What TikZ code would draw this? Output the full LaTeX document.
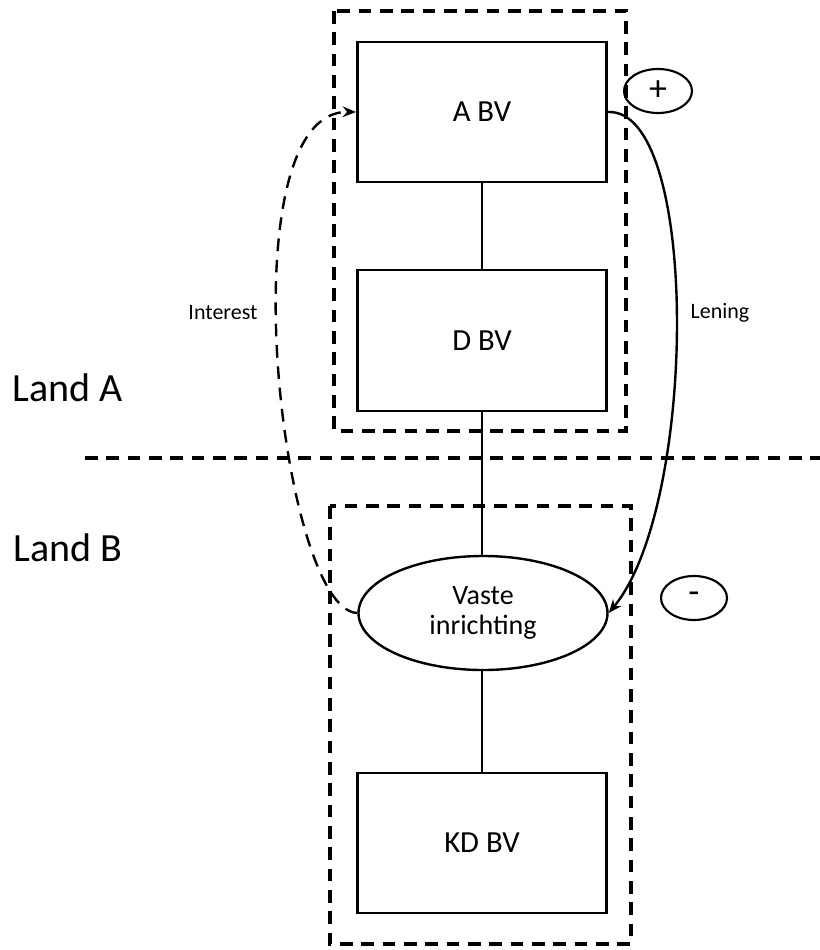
\documentclass[tikz,border=0pt]{standalone}
\usepackage{fontspec}
\setmainfont{Carlito}
\usetikzlibrary{arrows.meta,shapes.geometric}
\begin{document}
\begin{tikzpicture}[x=0.75pt,y=-0.75pt,
  boxnode/.style={draw,line width=2.2pt,rectangle,minimum width=249*0.75pt,minimum height=140*0.75pt,inner sep=0pt,font=\fontsize{23}{28}\selectfont},
  ovalnode/.style={draw,line width=1.8pt,ellipse,inner sep=0pt},
  dashbox/.style={line width=2.3pt,dash pattern=on 9.5pt off 6.5pt},
  link/.style={line width=1.8pt},
  flow/.style={line width=1.8pt,-{Stealth[length=10pt,width=8pt]}},
  lbl/.style={font=\fontsize{16.5}{20}\selectfont},
  land/.style={font=\fontsize{30}{36}\selectfont}]
\useasboundingbox (0,0) rectangle (820,950);
% dashed frames and border
\draw[dashbox] (334,11) rectangle (626,431);
\draw[dashbox] (330,506) rectangle (631,944);
\coordinate (bl) at (85,458);
\coordinate (br) at (820,458);
\draw[dashbox] (bl) -- (br);
% nodes
\node[boxnode] (abv) at (482,112) {A BV};
\node[boxnode,minimum height=141*0.75pt] (dbv) at (482,340.5) {D BV};
\node[ovalnode,minimum width=249*0.75pt,minimum height=114*0.75pt,align=center,font=\fontsize{21}{22.5}\selectfont] (vi) at (483,613) {Vaste\\inrichting};
\node[boxnode] (kdbv) at (482,843) {KD BV};
\node[ovalnode,line width=1.6pt,minimum width=68*0.75pt,minimum height=44*0.75pt,font=\fontsize{27}{30}\selectfont] (plus) at (658,91) {+};
\node[ovalnode,line width=1.6pt,minimum width=66*0.75pt,minimum height=44*0.75pt,font=\fontsize{27}{30}\selectfont] (minus) at (694,598) {-};
% labels
\node[lbl] (interest) at (223,313) {Interest};
\node[lbl] (lening) at (720,313) {Lening};
\node[land] (landa) at (68,388) {Land A};
\node[land] (landb) at (68,548) {Land B};
% connectors
\draw[link] (abv.south) -- (dbv.north);
\draw[link] (dbv.south) -- (dbv.south |- vi.north);
\draw[link] (vi.south -| kdbv.north) -- (kdbv.north);
\draw[flow] (abv.east) .. controls (700,108) and (698,505) .. (vi.east);
\draw[flow,dash pattern=on 9.5pt off 6.5pt] (vi.west) .. controls (280,610) and (225,110) .. (abv.west);
\end{tikzpicture}
\end{document}
